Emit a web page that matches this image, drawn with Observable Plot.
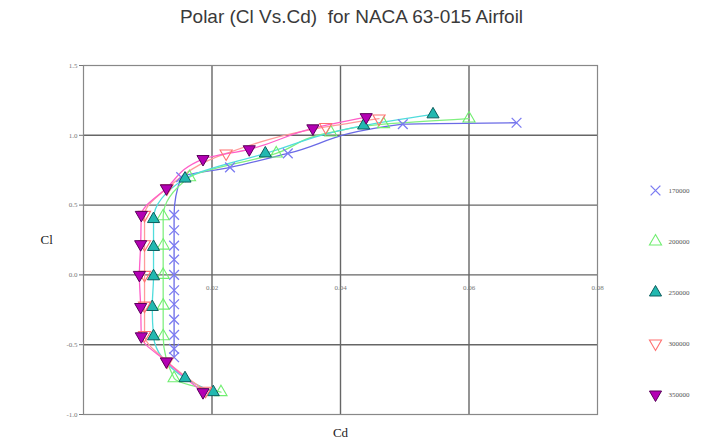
<!DOCTYPE html>
<html><head><meta charset="utf-8">
<script src="https://cdn.jsdelivr.net/npm/d3@7"></script>
<script src="https://cdn.jsdelivr.net/npm/@observablehq/plot@0.6"></script>
<style>
body{margin:0;background:#fff;}
#wrap{position:relative;width:703px;height:444px;overflow:hidden;}
#title{position:absolute;left:0;top:6px;width:703px;text-align:center;font-family:"Liberation Sans",Arial,sans-serif;font-size:19px;color:#3a3a3a;}
#legend{position:absolute;left:625px;top:0;}
</style>
</head><body>
<div id="wrap"><div id="chart"></div><div id="legend"></div><div id="title">Polar (Cl Vs.Cd)&nbsp; for NACA 63-015 Airfoil</div></div>
<script>
// ---- data ----
const series = ["170000", "200000", "250000", "300000", "350000"];
const cd170 = [0.0141, 0.0141, 0.0141, 0.0141, 0.0141, 0.0141, 0.0141, 0.0141, 0.0141, 0.0141, 0.0141, 0.0152, 0.0228, 0.0318, 0.0497, 0.0674];
const cl170 = [-0.59, -0.53, -0.43, -0.32, -0.21, -0.11, 0.0, 0.11, 0.21, 0.32, 0.43, 0.70, 0.77, 0.87, 1.08, 1.09];
const cd200 = [0.0214, 0.0141, 0.0124, 0.0124, 0.0124, 0.0124, 0.0124, 0.0165, 0.0300, 0.0385, 0.0467, 0.0600];
const cl200 = [-0.84, -0.74, -0.44, -0.22, 0.0, 0.21, 0.42, 0.70, 0.87, 1.02, 1.08, 1.12];
const cd250 = [0.0202, 0.0158, 0.0109, 0.0107, 0.0109, 0.0109, 0.0109, 0.0158, 0.0283, 0.0436, 0.0544];
const cl250 = [-0.84, -0.74, -0.44, -0.23, -0.01, 0.20, 0.40, 0.69, 0.87, 1.07, 1.15];
const cd300 = [0.0190, 0.0130, 0.0095, 0.0095, 0.0095, 0.0095, 0.0095, 0.0130, 0.0222, 0.0377, 0.0460];
const cl300 = [-0.83, -0.62, -0.43, -0.22, 0.0, 0.22, 0.43, 0.62, 0.87, 1.06, 1.12];
const cd350 = [0.0186, 0.0129, 0.0090, 0.0089, 0.0087, 0.0089, 0.0090, 0.0129, 0.0186, 0.0258, 0.0357, 0.0440];
const cl350 = [-0.84, -0.62, -0.44, -0.23, 0.0, 0.22, 0.43, 0.62, 0.83, 0.90, 1.05, 1.13];
const xTicks = [0.02, 0.04, 0.06, 0.08];
const yTicks = [-1.0, -0.5, 0.0, 0.5, 1.0, 1.5];
const xDomain = [0, 0.08];
const yDomain = [-1, 1.5];
const xAxisCross = 0;

// ---- build table ----
const cds = [cd170, cd200, cd250, cd300, cd350];
const cls = [cl170, cl200, cl250, cl300, cl350];
const rows = series.flatMap((s, i) => cds[i].map((cd, j) => ({re: s, cd, cl: cls[i][j]})));

// ---- styles ----
const downTri = {draw(ctx, size) {
  const c = {moveTo: (x, y) => ctx.moveTo(x, -y), lineTo: (x, y) => ctx.lineTo(x, -y), closePath: () => ctx.closePath()};
  d3.symbolTriangle.draw(c, size);
}};
const style = {
  "170000": {line: "#6a6ae6", symbol: "times", fill: "none", stroke: "#7b7bf2", sw: 1.3},
  "200000": {line: "#80f080", symbol: "triangle", fill: "none", stroke: "#70ee70", sw: 1.1},
  "250000": {line: "#50dcdc", symbol: "triangle", fill: "#22b8b0", stroke: "#0b5d5d", sw: 1},
  "300000": {line: "#ff9a9a", symbol: downTri, fill: "none", stroke: "#ff7070", sw: 1.1},
  "350000": {line: "#ff5fc8", symbol: downTri, fill: "#b400b4", stroke: "#5a005a", sw: 1}
};
const serif = "'Liberation Serif','Times New Roman',serif";

const marks = [
  Plot.gridY([-0.5, 0, 0.5, 1.0], {stroke: "#666", strokeOpacity: 1, strokeWidth: 1.4}),
  Plot.gridX([0.02, 0.04, 0.06], {stroke: "#666", strokeOpacity: 1, strokeWidth: 1.4}),
  Plot.frame({stroke: "#888", strokeWidth: 1.2}),
  Plot.axisY(yTicks, {tickFormat: d => d.toFixed(1), tickSize: 4, tickPadding: 2, fontSize: 7, fontFamily: serif, color: "#777", label: null}),
  Plot.text(xTicks, {x: d => d, y: () => xAxisCross, dy: 13, text: d => d.toFixed(2), fontSize: 7, fontFamily: serif, fill: "#777"}),
  Plot.text(["Cl"], {frameAnchor: "left", dx: -43, fontSize: 13, fontFamily: serif, fill: "#222"}),
  Plot.text(["Cd"], {frameAnchor: "bottom", dy: 22, fontSize: 13, fontFamily: serif, fill: "#222"})
];
for (const s of series) {
  const st = style[s];
  const data = rows.filter(d => d.re === s);
  marks.push(Plot.line(data, {x: "cd", y: "cl", stroke: st.line, strokeWidth: 1.3, curve: "monotone-y"}));
}
for (const s of series) {
  const st = style[s];
  const data = rows.filter(d => d.re === s);
  marks.push(Plot.dot(data, {x: "cd", y: "cl", symbol: () => st.symbol, r: 4.5, fill: st.fill, stroke: st.stroke, strokeWidth: st.sw}));
}

const chart = Plot.plot({
  width: 703, height: 444,
  marginLeft: 83, marginRight: 106, marginTop: 65, marginBottom: 30,
  x: {domain: xDomain, axis: null},
  y: {domain: yDomain, axis: null},
  symbol: {type: "identity"},
  style: {background: "transparent"},
  marks
});
document.getElementById("chart").append(chart);

// ---- legend ----
const legendMarks = [];
for (const s of series) {
  const st = style[s];
  legendMarks.push(Plot.dot([s], {y: d => d, frameAnchor: "left", dx: 30, symbol: () => st.symbol, r: 4.5, fill: st.fill, stroke: st.stroke, strokeWidth: st.sw}));
}
legendMarks.push(Plot.text(series, {y: d => d, frameAnchor: "left", dx: 43, text: d => d, textAnchor: "start", fontSize: 7, fontFamily: serif, fill: "#555"}));
const legend = Plot.plot({
  width: 78, height: 444,
  marginLeft: 0, marginRight: 0, marginTop: 163, marginBottom: 24,
  y: {type: "point", domain: series, axis: null},
  symbol: {type: "identity"},
  style: {background: "transparent"},
  marks: legendMarks
});
document.getElementById("legend").append(legend);
</script>
</body></html>
